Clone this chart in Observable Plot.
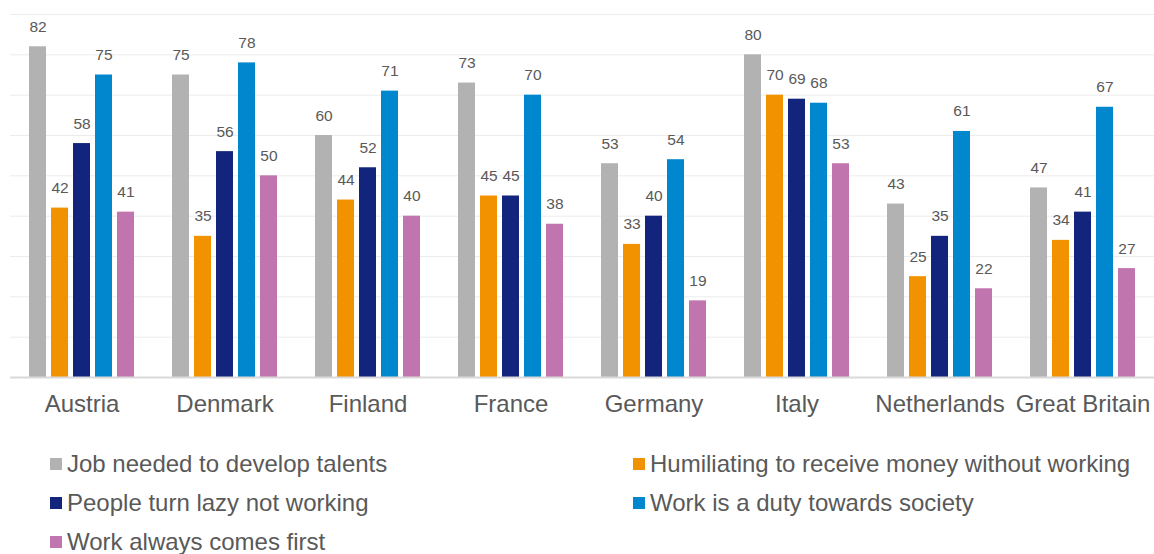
<!DOCTYPE html>
<html>
<head>
<meta charset="utf-8">
<script src="https://cdn.jsdelivr.net/npm/d3@7"></script>
<script src="https://cdn.jsdelivr.net/npm/@observablehq/plot@0.6"></script>
<style>
  body { margin: 0; background: #fff; font-family: "Liberation Sans", Arial, sans-serif; }
  #chart svg { display: block; }
  #legend { display: grid; grid-template-columns: 583px 500px; padding-left: 50px; margin-top: 4px; }
  .item { display: flex; align-items: center; height: 39px; font-size: 24px; line-height: 1; color: #595959; white-space: nowrap; }
  .sw { width: 12px; height: 12px; margin-right: 5px; flex: none; }
</style>
</head>
<body>
<div id="chart"></div>
<div id="legend"></div>
<script>
const countries = ["Austria", "Denmark", "Finland", "France", "Germany", "Italy", "Netherlands", "Great Britain"];
const series = [
  "Job needed to develop talents",
  "Humiliating to receive money without working",
  "People turn lazy not working",
  "Work is a duty towards society",
  "Work always comes first"
];
const colors = ["#b2b2b2", "#f39200", "#13247c", "#0087cd", "#c175ae"];
const jobNeeded   = [82, 75, 60, 73, 53, 80, 43, 47];
const humiliating = [42, 35, 44, 45, 33, 70, 25, 34];
const lazy        = [58, 56, 52, 45, 40, 69, 35, 41];
const duty        = [75, 78, 71, 70, 54, 68, 61, 67];
const comesFirst  = [41, 50, 40, 38, 19, 53, 22, 27];
const gridTicks = [10, 20, 30, 40, 50, 60, 70, 80, 90];

const seriesValues = [jobNeeded, humiliating, lazy, duty, comesFirst];
const data = [];
countries.forEach((c, i) => {
  series.forEach((s, j) => data.push({country: c, series: s, value: seriesValues[j][i]}));
});

const chart = Plot.plot({
  width: 1154,
  height: 440,
  marginLeft: 10,
  marginRight: 0,
  marginTop: 14,
  marginBottom: 63,
  style: {fontFamily: "'Liberation Sans', Arial, sans-serif", background: "#fff"},
  fx: {domain: countries, paddingInner: 0, paddingOuter: 0, round: false, label: null},
  x: {domain: series, axis: null, paddingInner: 0.227, paddingOuter: 0.864, round: false},
  y: {domain: [0, 90], axis: null},
  color: {domain: series, range: colors},
  marks: [
    Plot.ruleY(gridTicks, {stroke: "#ececec", strokeWidth: 1}),
    Plot.barY(data, {fx: "country", x: "series", y: "value", fill: "series"}),
    Plot.ruleY([0], {stroke: "#d9d9d9", strokeWidth: 2}),
    Plot.text(data, {fx: "country", x: "series", y: "value", text: d => String(d.value),
      lineAnchor: "bottom", dy: -15, fontSize: 15.5, fill: "#595959"}),
    Plot.axisFx({anchor: "bottom", tickSize: 0, tickPadding: 17, fontSize: 24, color: "#595959", label: null})
  ]
});
document.getElementById("chart").appendChild(chart);

const legend = document.getElementById("legend");
series.forEach((s, j) => {
  const it = document.createElement("div");
  it.className = "item";
  const sw = document.createElement("span");
  sw.className = "sw";
  sw.style.background = colors[j];
  const t = document.createElement("span");
  t.textContent = s;
  it.appendChild(sw); it.appendChild(t);
  legend.appendChild(it);
});
</script>
</body>
</html>
